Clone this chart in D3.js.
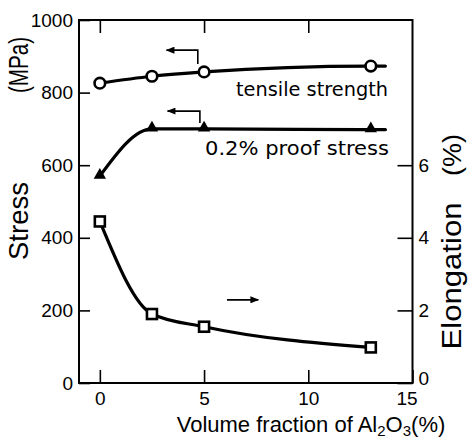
<!DOCTYPE html>
<html>
<head>
<meta charset="utf-8">
<script src="https://cdn.jsdelivr.net/npm/d3@7"></script>
<style>
  html, body { margin: 0; padding: 0; background: #fff; }
  svg { display: block; }
  .tick text { font-family: "Liberation Sans", Arial, sans-serif; font-size: 19px; fill: #000; }
  .tick line { stroke: #000; stroke-width: 1.6px; }
</style>
</head>
<body>
<svg id="chart" width="468" height="442"></svg>
<script>
// Volume fraction of Al2O3 (%)
const fractions = [0, 2.5, 5, 13];
// Stress (MPa)
const tensileStrength = [826, 845, 857, 873];
const proofStress = [570, 700, 700, 698];
// Elongation (%)
const elongation = [4.45, 1.9, 1.55, 0.98];

const xTicks = [0, 5, 10, 15];
const xTopTicks = [0, 5, 10];
const stressTicks = [0, 200, 400, 600, 800, 1000];
const elongTicks = [0, 2, 4, 6];

// the strength curves run on a little past the last measured point
const curveEnd = 13.7;

// direction arrows: which axis each curve belongs to
const tensileArrow = [[4.7, 879], [4.7, 917], [3.2, 917]];
const proofArrow = [[4.8, 716], [4.8, 749], [3.25, 749]];
const elongArrow = [[6.1, 2.29], [7.6, 2.29]];

const svg = d3.select("#chart");
const plotLeft = 79, plotRight = 412.5, plotTop = 20, plotBottom = 383;

const x = d3.scaleLinear().domain([-1, 15]).range([plotLeft, plotRight]);
const y = d3.scaleLinear().domain([0, 1000]).range([plotBottom, plotTop]);
const y2 = d3.scaleLinear().domain([0, 10]).range([plotBottom, plotTop]);

// axes: ticks point into the frame
svg.append("g").attr("transform", `translate(${plotLeft},0)`)
  .call(d3.axisLeft(y).tickValues(stressTicks).tickFormat(d3.format("d"))
    .tickSize(-11).tickSizeOuter(0).tickPadding(6))
  .call(g => g.select(".domain").remove());
svg.append("g").attr("transform", `translate(0,${plotBottom})`)
  .call(d3.axisBottom(x).tickValues(xTicks).tickSize(-13).tickSizeOuter(0).tickPadding(5))
  .call(g => g.select(".domain").remove())
  .call(g => g.selectAll(".tick text").attr("dy", "0.9em")
    .attr("dx", d => d === 15 ? -6 : 0));
svg.append("g").attr("transform", `translate(0,${plotTop})`)
  .call(d3.axisTop(x).tickValues(xTopTicks).tickSize(-13).tickSizeOuter(0).tickFormat(""))
  .call(g => g.select(".domain").remove());
svg.append("g").attr("transform", `translate(${plotRight},0)`)
  .call(d3.axisRight(y2).tickValues(elongTicks).tickSize(-15).tickSizeOuter(0).tickPadding(6))
  .call(g => g.select(".domain").remove())
  .call(g => g.selectAll(".tick text").attr("dy", d => d === 0 ? "0.1em" : "0.32em"));

// frame
svg.append("rect")
  .attr("x", plotLeft).attr("y", plotTop)
  .attr("width", plotRight - plotLeft).attr("height", plotBottom - plotTop)
  .attr("fill", "none").attr("stroke", "#000").attr("stroke-width", 2);

// curves
const stressLine = d3.line().x(d => x(d[0])).y(d => y(d[1])).curve(d3.curveMonotoneX);
const elongLine = d3.line().x(d => x(d[0])).y(d => y2(d[1])).curve(d3.curveMonotoneX);

function withTail(vals) {
  const pts = fractions.map((f, i) => [f, vals[i]]);
  pts.push([curveEnd, vals[vals.length - 1]]);
  return pts;
}

const curves = svg.append("g").attr("fill", "none").attr("stroke", "#000")
  .attr("stroke-width", 3.2).attr("stroke-linecap", "round");
curves.append("path").attr("d", stressLine(withTail(tensileStrength)));
curves.append("path").attr("d", stressLine(withTail(proofStress)));
curves.append("path").attr("d", elongLine(fractions.map((f, i) => [f, elongation[i]])));

// markers
svg.append("g").selectAll("circle").data(fractions).join("circle")
  .attr("cx", d => x(d)).attr("cy", (d, i) => y(tensileStrength[i]))
  .attr("r", 5.3).attr("fill", "#fff").attr("stroke", "#000").attr("stroke-width", 2.6);

const tri = d3.symbol().type(d3.symbolTriangle).size(66);
svg.append("g").selectAll("path").data(fractions).join("path")
  .attr("transform", (d, i) => `translate(${x(d)},${y(proofStress[i]) - 1})`)
  .attr("d", tri).attr("fill", "#000");

svg.append("g").selectAll("rect").data(fractions).join("rect")
  .attr("x", d => x(d) - 5).attr("y", (d, i) => y2(elongation[i]) - 5)
  .attr("width", 10).attr("height", 10)
  .attr("fill", "#fff").attr("stroke", "#000").attr("stroke-width", 2.6);

// arrows
svg.append("defs").append("marker")
  .attr("id", "head").attr("viewBox", "0 0 10 8")
  .attr("refX", 9).attr("refY", 4)
  .attr("markerUnits", "userSpaceOnUse")
  .attr("markerWidth", 10).attr("markerHeight", 7)
  .attr("orient", "auto")
  .append("path").attr("d", "M0,0L10,4L0,8Z").attr("fill", "#000");

const arrowPath = d3.line();
const arrows = svg.append("g").attr("fill", "none").attr("stroke", "#000").attr("stroke-width", 1.6);
arrows.append("path").attr("d", arrowPath(tensileArrow.map(p => [x(p[0]), y(p[1])]))).attr("marker-end", "url(#head)");
arrows.append("path").attr("d", arrowPath(proofArrow.map(p => [x(p[0]), y(p[1])]))).attr("marker-end", "url(#head)");
arrows.append("path").attr("d", arrowPath(elongArrow.map(p => [x(p[0]), y2(p[1])]))).attr("marker-end", "url(#head)");

// text labels
function label(txt, px, py, size, len, family, rotate) {
  return svg.append("text")
    .attr("font-family", family)
    .attr("font-size", size)
    .attr("fill", "#000")
    .attr("text-anchor", "middle")
    .attr("textLength", len)
    .attr("lengthAdjust", "spacingAndGlyphs")
    .attr("transform", rotate ? `translate(${px},${py}) rotate(-90)` : `translate(${px},${py})`)
    .text(txt);
}

const sans = "'DejaVu Sans', sans-serif";
const lib = "'Liberation Sans', Arial, sans-serif";

label("tensile strength", 312, 96, 19, 152, sans, false);
label("0.2% proof stress", 297, 155, 19, 184, sans, false);

label("Stress", 28, 221, 28, 78, lib, true);
label("(MPa)", 28, 65, 27, 56, lib, true);

label("Elongation", 461, 276, 27, 147, lib, true);
label("(%)", 461, 155, 26, 42, lib, true);

// x axis title with subscripts
const xt = svg.append("text")
  .attr("font-family", lib).attr("font-size", 22).attr("fill", "#000")
  .attr("text-anchor", "middle")
  .attr("transform", "translate(311,432)");
xt.append("tspan").text("Volume fraction of Al");
xt.append("tspan").attr("font-size", 15).attr("dy", 4).text("2");
xt.append("tspan").attr("dy", -4).text("O");
xt.append("tspan").attr("font-size", 15).attr("dy", 4).text("3");
xt.append("tspan").attr("dy", -4).text("(%)");
</script>
</body>
</html>
